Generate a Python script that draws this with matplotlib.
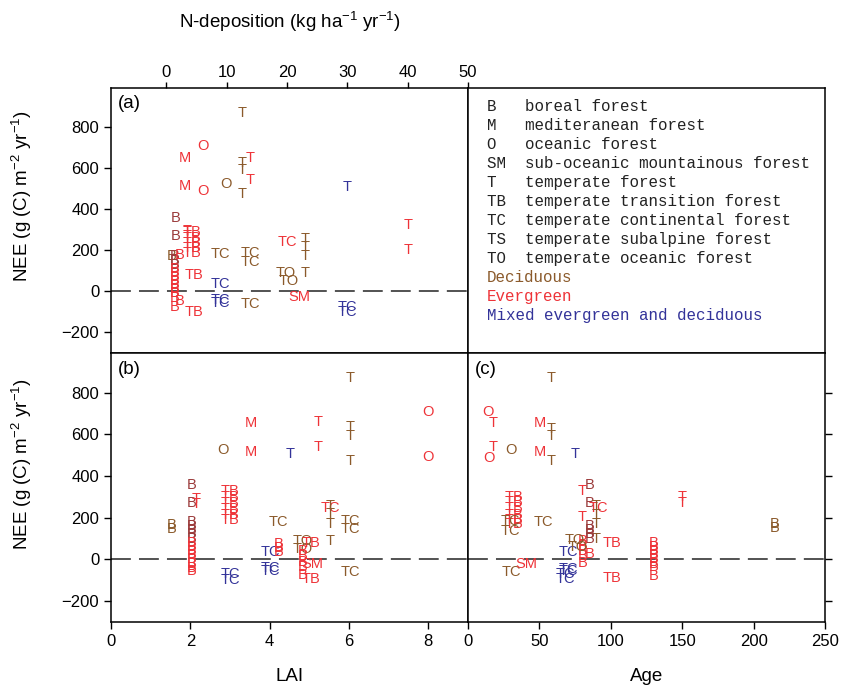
import matplotlib
matplotlib.use('Agg')
import matplotlib.pyplot as plt

plt.rcParams['font.family'] = 'Liberation Sans'
plt.rcParams['mathtext.fontset'] = 'custom'
plt.rcParams['mathtext.rm'] = 'Liberation Sans'
plt.rcParams['mathtext.it'] = 'Liberation Sans:italic'

# group colours: D deciduous, E evergreen, X mixed, K dark boreal
colours = {'D': '#8B5A2B', 'E': '#EE3338', 'X': '#333399', 'K': '#9B3B3B'}

# ---- panel (a): NEE vs N-deposition
a_ndep = [12.5, 12.5, 12.5, 12.5, 6.0, 6.0, 3.0, 3.0, 13.9, 13.9, 9.9,
          1.5, 1.5, 3.5, 3.5, 4.2, 4.2, 4.2, 4.2, 4.2, 0.9,
          1.4, 1.4, 1.4, 1.4, 1.4, 1.4, 1.4, 1.4, 1.4, 1.4, 1.4,
          2.1, 2.1, 1.4, 4.5, 4.5, 8.9, 13.9, 13.9, 13.9, 8.9, 8.9, 8.9,
          20.0, 19.7, 20.3, 23.0, 23.0, 23.0, 23.0, 22.0, 30.0, 30.0, 30.0,
          40.0, 40.0]
a_nee = [870, 625, 593, 473, 707, 490, 650, 515, 650, 540, 522,
         359, 269, 295, 270, 290, 260, 235, 210, 185, 170,
         170, 150, 130, 110, 90, 70, 50, 30, 10, -10, -30,
         178, -47, -78, 80, -100, 181, 186, 141, -62, 37, -42, -55,
         242, 90, 52, 256, 216, 170, 90, -25, 506, -77, -100,
         322, 199]
a_code = ['T', 'T', 'T', 'T', 'O', 'O', 'M', 'M', 'T', 'T', 'O',
          'B', 'B', 'T', 'T', 'TB', 'TB', 'TB', 'TB', 'TB', 'B',
          'B', 'B', 'B', 'B', 'B', 'B', 'B', 'B', 'B', 'B', 'B',
          'B', 'B', 'B', 'TB', 'TB', 'TC', 'TC', 'TC', 'TC', 'TC', 'TC', 'TC',
          'TC', 'TO', 'TO', 'T', 'T', 'T', 'T', 'SM', 'T', 'TC', 'TC',
          'T', 'T']
a_grp = ['D', 'D', 'D', 'D', 'E', 'E', 'E', 'E', 'E', 'E', 'D',
         'K', 'K', 'E', 'E', 'E', 'E', 'E', 'E', 'E', 'D',
         'K', 'K', 'K', 'E', 'E', 'E', 'E', 'E', 'E', 'E', 'E',
         'E', 'E', 'E', 'E', 'E', 'D', 'D', 'D', 'D', 'X', 'X', 'X',
         'E', 'D', 'D', 'D', 'D', 'D', 'D', 'E', 'X', 'X', 'X',
         'E', 'E']

# ---- panel (b): NEE vs LAI
b_lai = [6.03, 6.03, 6.03, 6.03, 8.0, 8.0, 3.52, 3.52, 5.22, 5.22, 2.83, 4.52,
         2.03, 2.03, 2.15, 2.15, 1.53, 1.53,
         2.03, 2.03, 2.03, 2.03, 2.03,
         2.03, 2.03, 2.03, 2.03, 2.03, 2.03, 2.03, 2.03,
         3.0, 3.0, 3.0, 3.0, 3.0, 3.0,
         4.23, 6.03, 6.03, 6.03, 4.02, 4.02, 4.02, 3.0, 3.0,
         4.23, 4.23, 4.23, 5.53, 5.53, 5.53, 5.53, 5.53, 4.82, 4.82,
         5.03, 5.03, 4.82, 4.82, 4.82, 4.82, 4.82, 5.07]
b_nee = [870, 634, 591, 473, 708, 489, 652, 516, 657, 540, 525, 508,
         356, 269, 290, 265, 165, 145,
         180, 160, 140, 120, 100,
         80, 60, 40, 20, 0, -20, -40, -55,
         330, 300, 270, 240, 215, 190,
         181, 184, 144, -61, 35, -40, -55, -70, -100,
         75, 55, 35, 248, 256, 216, 168, 88, 88, 48,
         80, -96, 40, 15, -10, -35, -75, -24]
b_code = ['T', 'T', 'T', 'T', 'O', 'O', 'M', 'M', 'T', 'T', 'O', 'T',
          'B', 'B', 'T', 'T', 'B', 'B',
          'B', 'B', 'B', 'B', 'B',
          'B', 'B', 'B', 'B', 'B', 'B', 'B', 'B',
          'TB', 'TB', 'TB', 'TB', 'TB', 'TB',
          'TC', 'TC', 'TC', 'TC', 'TC', 'TC', 'TC', 'TC', 'TC',
          'B', 'B', 'B', 'TC', 'T', 'T', 'T', 'T', 'TO', 'TO',
          'TB', 'TB', 'B', 'B', 'B', 'B', 'B', 'SM']
b_grp = ['D', 'D', 'D', 'D', 'E', 'E', 'E', 'E', 'E', 'E', 'D', 'X',
         'K', 'K', 'E', 'E', 'D', 'D',
         'K', 'K', 'K', 'K', 'K',
         'E', 'E', 'E', 'E', 'E', 'E', 'E', 'E',
         'E', 'E', 'E', 'E', 'E', 'E',
         'D', 'D', 'D', 'D', 'X', 'X', 'X', 'X', 'X',
         'E', 'E', 'E', 'E', 'D', 'D', 'D', 'D', 'D', 'D',
         'E', 'E', 'E', 'E', 'E', 'E', 'E', 'E']

# ---- panel (c): NEE vs stand age
c_age = [58, 58, 58, 58, 14.2, 15, 17.3, 17.3, 50.4, 50.4, 30, 75,
         85.4, 85.4, 80, 80, 91, 90, 90, 90, 90,
         32.5, 32.5, 32.5, 32.5, 32.5, 32.5,
         29.4, 29.4, 52.7, 30.6, 40.6, 100.5, 100.5,
         70, 70, 70, 68, 68,
         85.4, 85.4, 85.4, 85.4, 80, 80, 80, 80, 80, 85.4, 75, 77,
         130, 130, 130, 130, 130, 130, 130, 130, 150, 150, 215, 215]
c_nee = [870, 625, 593, 473, 708, 486, 652, 540, 652, 516, 525, 508,
         358, 272, 326, 205, 248, 256, 214, 170, 96,
         300, 275, 245, 215, 190, 168,
         184, 136, 179, -61, -24, 80, -90,
         35, -45, -55, -70, -96,
         160, 140, 120, 100, 88, 65, 40, 15, -16, 24, 92, 60,
         80, 60, 40, 20, 0, -20, -35, -78, 300, 272, 170, 150]
c_code = ['T', 'T', 'T', 'T', 'O', 'O', 'T', 'T', 'M', 'M', 'O', 'T',
          'B', 'B', 'T', 'T', 'TC', 'T', 'T', 'T', 'T',
          'TB', 'TB', 'TB', 'TB', 'TB', 'TB',
          'TC', 'TC', 'TC', 'TC', 'SM', 'TB', 'TB',
          'TC', 'TC', 'TC', 'TC', 'TC',
          'B', 'B', 'B', 'B', 'B', 'B', 'B', 'B', 'B', 'B', 'TO', 'TO',
          'B', 'B', 'B', 'B', 'B', 'B', 'B', 'B', 'T', 'T', 'B', 'B']
c_grp = ['D', 'D', 'D', 'D', 'E', 'E', 'E', 'E', 'E', 'E', 'D', 'X',
         'K', 'K', 'E', 'E', 'E', 'D', 'D', 'D', 'D',
         'E', 'E', 'E', 'E', 'E', 'E',
         'D', 'D', 'D', 'D', 'E', 'E', 'E',
         'X', 'X', 'X', 'X', 'X',
         'K', 'K', 'K', 'K', 'E', 'E', 'E', 'E', 'E', 'E', 'D', 'D',
         'E', 'E', 'E', 'E', 'E', 'E', 'E', 'E', 'E', 'E', 'D', 'D']

legend_codes = ['B', 'M', 'O', 'SM', 'T', 'TB', 'TC', 'TS', 'TO']
legend_names = ['boreal forest', 'mediteranean forest', 'oceanic forest',
                'sub-oceanic mountainous forest', 'temperate forest',
                'temperate transition forest', 'temperate continental forest',
                'temperate subalpine forest', 'temperate oceanic forest']
legend_groups = [('Deciduous', 'D'), ('Evergreen', 'E'),
                 ('Mixed evergreen and deciduous', 'X')]


def draw_codes(ax, xs, ys, codes, grps):
    for x, y, s, g in zip(xs, ys, codes, grps):
        ax.text(x, y, s, color=colours[g], fontsize=10.5, ha='center',
                va='center', clip_on=True)
    ax.axhline(0, color='#444444', lw=1.3, dashes=(11, 4.5), zorder=0)


fig = plt.figure(figsize=(8.55, 6.87), dpi=100)
L, M, R = 111/855, 468/855, 825/855
T, C, B = 1-88/687, 1-353/687, 1-622/687
ax_a = fig.add_axes([L, C, M-L, T-C])
ax_l = fig.add_axes([M, C, R-M, T-C])
ax_b = fig.add_axes([L, B, M-L, C-B])
ax_c = fig.add_axes([M, B, R-M, C-B])

ylim = (-300, 990)
yt = [-200, 0, 200, 400, 600, 800]

draw_codes(ax_a, a_ndep, a_nee, a_code, a_grp)
ax_a.set_xlim(-9.2, 50)
ax_a.set_ylim(*ylim)
ax_a.set_yticks(yt)
ax_a.set_xticks([0, 10, 20, 30, 40, 50])
ax_a.tick_params(axis='x', top=True, bottom=False, labeltop=True,
                 labelbottom=False)
ax_a.xaxis.set_label_position('top')

draw_codes(ax_b, b_lai, b_nee, b_code, b_grp)
ax_b.set_xlim(0, 9)
ax_b.set_ylim(*ylim)
ax_b.set_yticks(yt)
ax_b.set_xticks([0, 2, 4, 6, 8])
ax_b.set_xlabel('LAI', fontsize=13.5, labelpad=14)

draw_codes(ax_c, c_age, c_nee, c_code, c_grp)
ax_c.set_xlim(0, 250)
ax_c.set_ylim(*ylim)
ax_c.set_yticks(yt)
ax_c.set_xticks([0, 50, 100, 150, 200, 250])
ax_c.tick_params(axis='y', left=False, right=True, labelleft=False,
                 labelright=False)
ax_c.set_xlabel('Age', fontsize=13.5, labelpad=14)

ax_l.set_xticks([])
ax_l.set_yticks([])

for ax in (ax_a, ax_b, ax_c, ax_l):
    ax.tick_params(labelsize=12, length=5, width=1, direction='out')
    for sp in ax.spines.values():
        sp.set_linewidth(1.1)
ax_a.tick_params(axis='x', length=4, pad=1.5)
ax_a.set_xlabel('N-deposition (kg ha$^{-1}$ yr$^{-1}$)', fontsize=13.5,
                labelpad=27)

ax_a.text(0.02, 0.943, '(a)', transform=ax_a.transAxes, fontsize=13.5,
          va='center')
ax_b.text(0.02, 0.937, '(b)', transform=ax_b.transAxes, fontsize=13.5,
          va='center')
ax_c.text(0.02, 0.937, '(c)', transform=ax_c.transAxes, fontsize=13.5,
          va='center')

ylab = 'NEE (g (C) m$^{-2}$ yr$^{-1}$)'
fig.text(22/855, 1-196/687, ylab, rotation=90, ha='center', va='center',
         fontsize=13.5)
fig.text(22/855, 1-464/687, ylab, rotation=90, ha='center', va='center',
         fontsize=13.5)

# legend block, monospaced like the original
row = 0
for code, name in zip(legend_codes, legend_names):
    fig.text(487/855, 1-(106.7+19*row)/687, code.ljust(4) + name,
             family='Liberation Mono', fontsize=11.4, color='#222222',
             va='center')
    row += 1
for name, g in legend_groups:
    fig.text(487/855, 1-(106.7+19*row)/687, name, family='Liberation Mono',
             fontsize=11.4, color=colours[g], va='center')
    row += 1

fig.savefig('out.png', dpi=100)
